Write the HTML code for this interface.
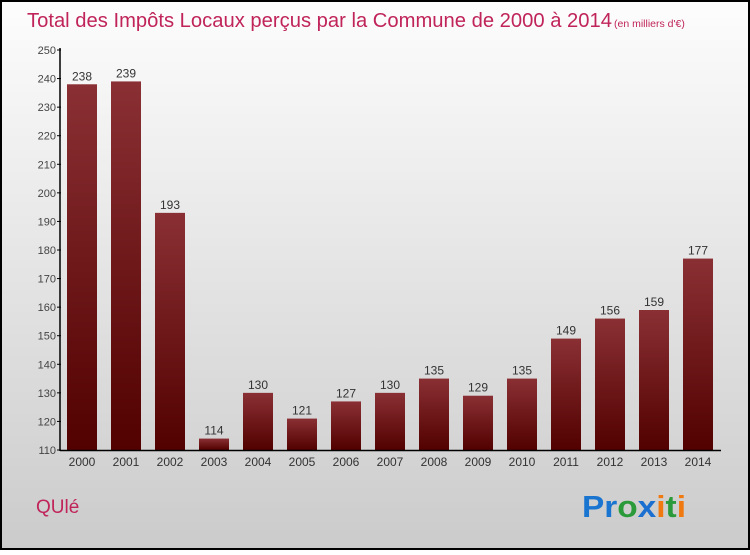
<!DOCTYPE html>
<html><head><meta charset="utf-8"><style>
html,body{margin:0;padding:0;}
body{width:750px;height:550px;overflow:hidden;font-family:"Liberation Sans",sans-serif;}
</style></head><body>
<svg id="c" width="750" height="550" xmlns="http://www.w3.org/2000/svg">
<defs>
<linearGradient id="bg" x1="0" y1="0" x2="0" y2="1"><stop offset="0" stop-color="#fdfdfd"/><stop offset="1" stop-color="#cbcbcb"/></linearGradient>
<linearGradient id="bar" x1="0" y1="0" x2="0" y2="1"><stop offset="0" stop-color="#8a3034"/><stop offset="1" stop-color="#520000"/></linearGradient>
</defs>
<rect x="1" y="1" width="748" height="548" fill="url(#bg)" stroke="#000" stroke-width="2"/>
<text x="27" y="27" font-size="20" fill="#c0245a" textLength="585" lengthAdjust="spacingAndGlyphs">Total des Impôts Locaux perçus par la Commune de 2000 à 2014</text>
<text x="614" y="27" font-size="10.5" fill="#c0245a">(en milliers d'€)</text>
<g id="plot"></g>
<text x="36" y="513" font-size="19" fill="#c0245a">QUlé</text>
<g font-size="31" font-weight="bold">
<text x="582" y="517" textLength="104" lengthAdjust="spacingAndGlyphs"><tspan fill="#1a75d1">Pr</tspan><tspan fill="#2a9a3a">o</tspan><tspan fill="#1a6fd0">x</tspan><tspan fill="#f07a10">i</tspan><tspan fill="#2a9a3a">t</tspan><tspan fill="#f07a10">i</tspan></text>
</g>
</svg>
<script>
const years=["2000","2001","2002","2003","2004","2005","2006","2007","2008","2009","2010","2011","2012","2013","2014"];
const values=[238,239,193,114,130,121,127,130,135,129,135,149,156,159,177];
const yTicks=[110,120,130,140,150,160,170,180,190,200,210,220,230,240,250];
const NS="http://www.w3.org/2000/svg";
const g=document.getElementById("plot");
const y0=450,y1=50,vmin=110,vmax=250;
function yS(v){return y0-(v-vmin)/(vmax-vmin)*(y0-y1);}
function xS(i){return 82+i*44;}
function el(t,a,txt){const e=document.createElementNS(NS,t);for(const k in a)e.setAttribute(k,a[k]);if(txt!==undefined)e.textContent=txt;g.appendChild(e);return e;}
yTicks.forEach(v=>{
const t=el("text",{x:56,y:yS(v)+4,"font-size":11,fill:"#444","text-anchor":"end"},v);


const l=el("line",{x1:57,x2:61,y1:yS(v),y2:yS(v),stroke:"#000"});


});
values.forEach((v,i)=>{
const x=xS(i);
const r=el("rect",{x:x-15,y:yS(v),width:30,height:y0-yS(v),fill:"url(#bar)"});


const t=el("text",{x:x,y:yS(v)-4,"font-size":12,fill:"#333","text-anchor":"middle"},v);


const xl=el("text",{x:x,y:466,"font-size":12,fill:"#333","text-anchor":"middle"},years[i]);


});
const ya=el("line",{x1:60,x2:60,y1:48,y2:451,stroke:"#000","stroke-width":1.5});


const xa=el("line",{x1:60,x2:721,y1:450.5,y2:450.5,stroke:"#000","stroke-width":1.5});


</script>
</body></html>
